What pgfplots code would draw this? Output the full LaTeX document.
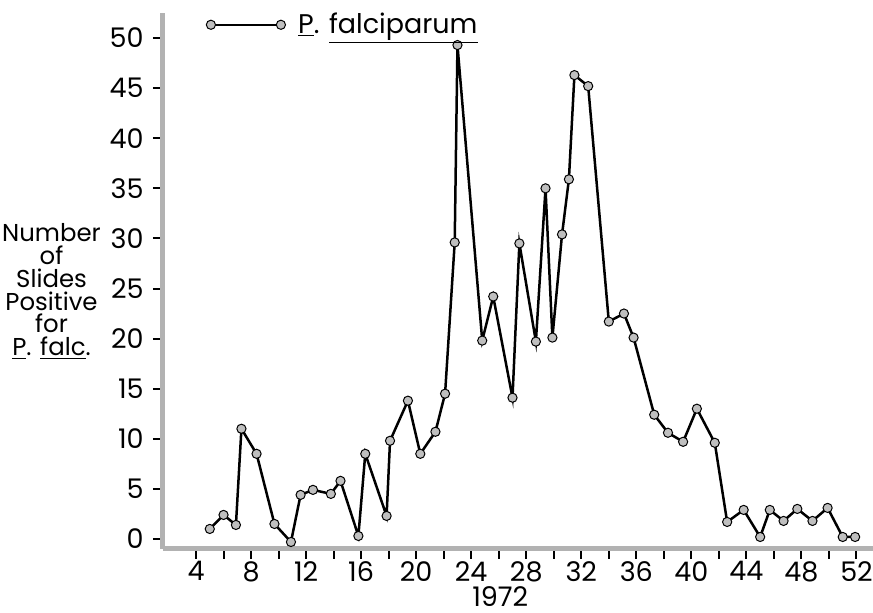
\documentclass[border=0pt]{standalone}
\usepackage{fontspec}
\setmainfont{Poppins}
\usepackage{pgfplots}
\pgfplotsset{compat=1.18}
\begin{document}
\fontsize{13.5}{13.5}\selectfont
\begin{tikzpicture}
\begin{axis}[
  scale only axis,
  width=355pt, height=268pt,
  xmin=1.6, xmax=53.2,
  ymin=-1, ymax=52.5,
  axis lines=left,
  axis line style={-, line width=2.5pt, gray!60},
  tick align=outside,
  major tick length=5pt, minor tick length=5pt,
  tick style={black, line width=1pt},
  xtick={4,8,...,52},
  minor xtick={6,10,...,50},
  ytick={0,5,...,50},
  /pgf/number format/assume math mode=true,
  ticklabel style={font=\fontsize{13.5}{13.5}\selectfont},
  yticklabel style={xshift=0pt},
  xticklabel style={yshift=3.5pt},
  xlabel={1972},
  xlabel style={at={(rel axis cs:0.475,0)}, anchor=north, yshift=-18.5pt,
    inner sep=0pt},
  ylabel={Number\\of\\Slides\\Positive\\for\\\underline{P}. \underline{falc}.},
  ylabel style={rotate=-90, align=center, anchor=center,
    at={(rel axis cs:-0.157,0.48)}, font=\fontsize{12.2}{11.4}\selectfont},
  legend style={draw=none, fill=none, at={(rel axis cs:0.052,0.978)},
    anchor=west, font=\fontsize{13.5}{13.5}\selectfont},
  legend image code/.code={
    \draw[#1,mark=none] (0pt,0pt) -- (35pt,0pt);
    \draw[#1,only marks] plot coordinates {(0pt,0pt) (35pt,0pt)};
    \path (41pt,0pt);
  },
]
\addplot[black, line width=1.25pt, mark=*,
  mark options={fill=gray!50, draw=black, line width=0.5pt}, mark size=2.3pt]
coordinates {
(5.0,1.0) (6.0,2.4) (6.9,1.4) (7.3,11.0) (8.4,8.5) (9.7,1.5)
(10.9,-0.3) (11.6,4.4) (12.5,4.9) (13.8,4.5) (14.5,5.8) (15.8,0.3)
(16.3,8.5) (17.85,2.3) (18.1,9.8) (19.4,13.8) (20.3,8.5) (21.4,10.7)
(22.1,14.5) (22.8,29.6) (23.0,49.3) (24.8,19.8) (25.6,24.2) (27.0,14.1)
(27.5,29.5) (28.7,19.7) (29.4,35.0) (29.9,20.1) (30.6,30.4) (31.1,35.9)
(31.5,46.3) (32.5,45.2) (34.0,21.7) (35.1,22.5) (35.8,20.1) (37.3,12.4)
(38.3,10.6) (39.4,9.7) (40.4,13.0) (41.7,9.6) (42.6,1.7) (43.8,2.9)
(45.0,0.2) (45.7,2.9) (46.7,1.8) (47.7,3.0) (48.8,1.8) (49.9,3.1)
(51.0,0.2) (51.9,0.2)
};
\addlegendentry{\underline{P}. \underline{falciparum}}
\end{axis}
\pgfresetboundingbox
\path ([shift={(-81.5pt,-32pt)}]current axis.south west) rectangle ([shift={(0pt,6.5pt)}]current axis.north east);
\end{tikzpicture}
\end{document}
